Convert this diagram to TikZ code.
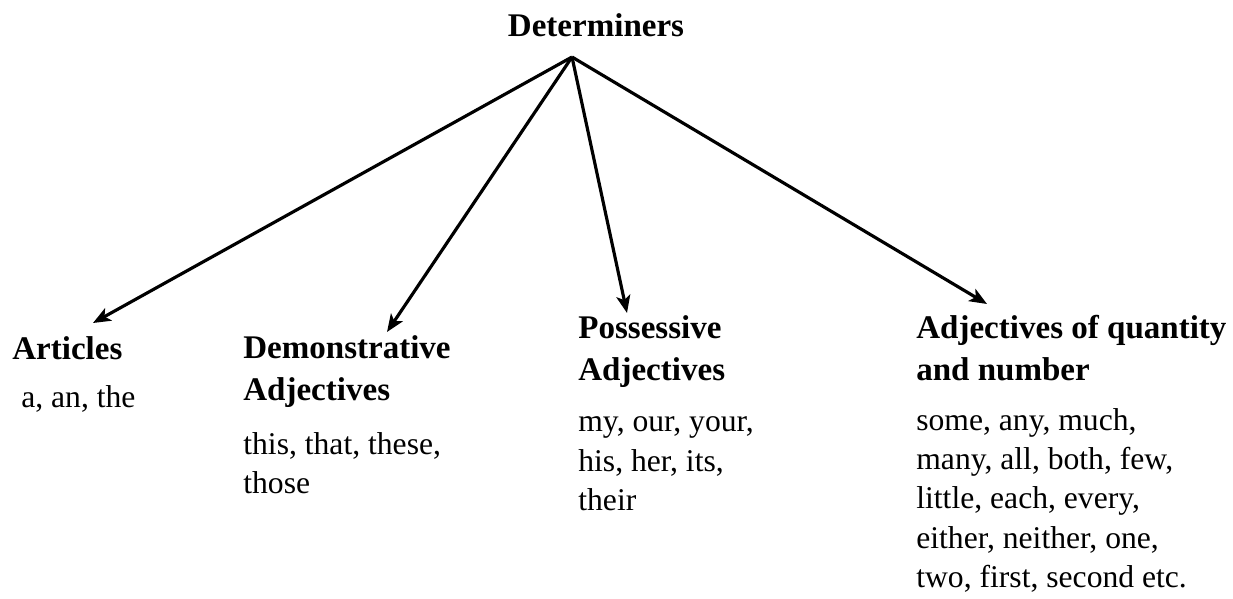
\documentclass[tikz,border=0pt]{standalone}
\usepackage{fontspec}
\setmainfont{Liberation Serif}
\usetikzlibrary{arrows.meta,positioning}

\begin{document}
\begin{tikzpicture}[
  x=0.02cm, y=-0.02cm,
  >={Stealth[length=10pt,width=8pt,inset=2.5pt]},
  head/.style={inner sep=0pt, anchor=base west, align=left,
    font=\fontsize{18.8}{23.9}\selectfont\bfseries},
  words/.style={inner sep=0pt, anchor=base west, align=left,
    font=\fontsize{18}{22.2}\selectfont},
  link/.style={->, line width=1.8pt},
]
  \useasboundingbox (0,0) rectangle (1233,598);

  % Top: root word
  \node[head, anchor=base] (det) at (596,37) {Determiners};
  \coordinate (apex) at (572,57);

  % Articles (base = last line)
  \node[head] (art) at (12,359) {Articles};
  \node[words] (artw) at (21,407) {a, an, the};

  % Demonstrative adjectives
  \node[head] (dem) at (243,400) {Demonstrative\\Adjectives};
  \node[words] (demw) at (243,493) {this, that, these,\\those};

  % Possessive adjectives
  \node[head] (pos) at (578,380) {Possessive\\Adjectives};
  \node[words] (posw) at (578,510) {my, our, your,\\his, her, its,\\their};

  % Adjectives of quantity and number
  \node[head] (qty) at (916,380) {Adjectives of quantity\\and number};
  \node[words] (qtyw) at (916,587)
    {some, any, much,\\many, all, both, few,\\little, each, every,\\
     either, neither, one,\\two, first, second etc.};

  % Arrow ends
  \coordinate (art-in) at (93,323);
  \coordinate (dem-in) at (387,332);
  \coordinate (pos-in) at (627,313);
  \coordinate (qty-in) at (987,304);

  % Arrows
  \draw[link] (apex) -- (art-in);
  \draw[link] (apex) -- (dem-in);
  \draw[link] (apex) -- (pos-in);
  \draw[link] (apex) -- (qty-in);
\end{tikzpicture}
\end{document}
